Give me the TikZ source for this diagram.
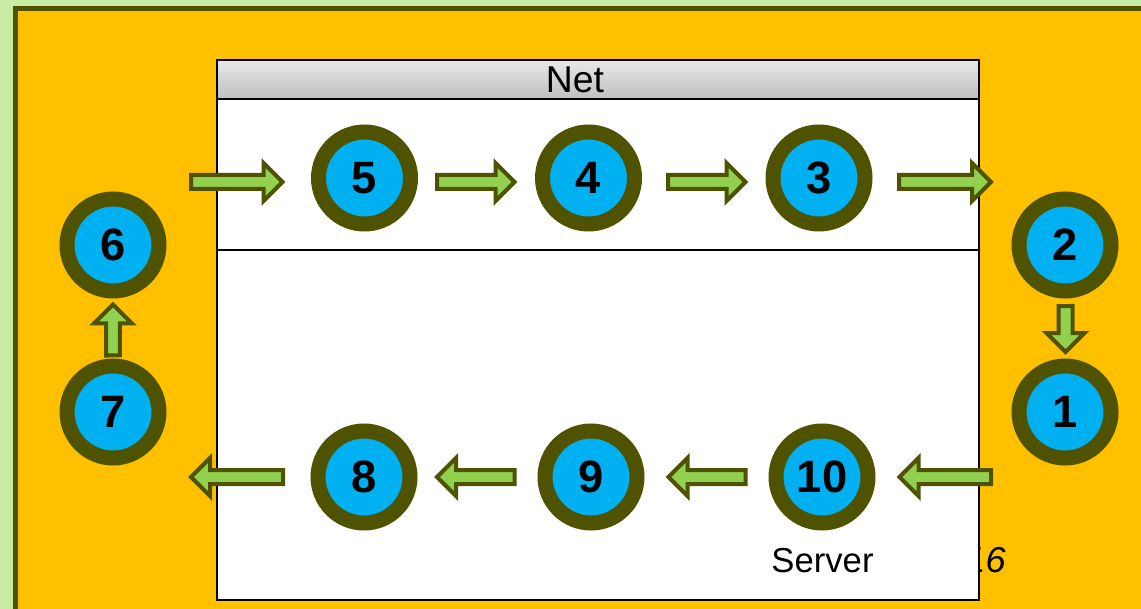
\documentclass[tikz,border=0pt]{standalone}
\usepackage{fontspec}
\setmainfont{Liberation Sans}
\usetikzlibrary{calc}
\definecolor{leaf}{RGB}{198,237,163}
\definecolor{amber}{RGB}{255,192,0}
\definecolor{ringolive}{RGB}{79,83,0}
\definecolor{ringblue}{RGB}{0,176,240}
\definecolor{arrowgreen}{RGB}{146,208,80}
\begin{document}
\begin{tikzpicture}[x=0.75pt,y=-0.75pt,
    stage/.style={circle,fill=ringblue,draw=ringolive,line width=11.25pt,
      minimum size=69pt,inner sep=0pt,outer sep=0pt,font=\fontsize{34}{34}\selectfont\bfseries},
    blockarrow/.style={draw=ringolive,fill=arrowgreen,line width=3pt,
      to path={let \p1=(\tikztostart), \p2=(\tikztotarget),
        \n1={atan2(\y2-\y1,\x2-\x1)}, \n2={veclen(\x2-\x1,\y2-\y1)-14.25pt} in
        (\p1) ++(\n1+90:5.25pt) -- ++(\n1:\n2) -- ++(\n1+90:9pt) -- (\p2)
        -- ++(\n1-135:20.15pt) -- ++(\n1+90:9pt) -- ++(\n1+180:\n2) -- cycle}},
    label/.style={inner sep=0pt,anchor=base}]
    \useasboundingbox (0,0) rectangle (1141,609);
    \clip (0,0) rectangle (1141,609);
    % background
    \fill[leaf] (0,0) rectangle (1141,609);
    \draw[ringolive,line width=3.75pt,fill=amber] (15,8.5) rectangle (1170,640);
    \node[label,anchor=base east,font=\fontsize{27}{27}\selectfont\itshape] (page) at (1006,572) {16};
    % net box
    \draw[line width=1.9pt,fill=white] (217,60) rectangle (979,600);
    \draw[line width=1.5pt,top color=gray!18,bottom color=gray!50] (217,60) rectangle (979,99);
    \draw[line width=1.5pt] (217,250) -- (979,250);
    \node[label,font=\fontsize{28}{28}\selectfont] (net) at (575,93) {Net};
    \node[label,font=\fontsize{26}{26}\selectfont] (server) at (822.5,572) {Server};
    % stages
    \node[stage] (n1) at (1065,412) {1};
    \node[stage] (n2) at (1065,245) {2};
    \node[stage] (n3) at (819,178) {3};
    \node[stage] (n4) at (588.5,178) {4};
    \node[stage] (n5) at (364.5,178) {5};
    \node[stage] (n6) at (113,245) {6};
    \node[stage] (n7) at (113,412) {7};
    \node[stage] (n8) at (364,477) {8};
    \node[stage] (n9) at (591,477) {9};
    \node[stage] (n10) at (822,477) {10};
    % free ends
    \coordinate (inL) at (191,182);
    \coordinate (outR) at (991,182);
    \coordinate (inR) at (991,477);
    \coordinate (outL) at (191,477);
    % arrows
    \draw[blockarrow] (inL) to ($(n5.west)+(-36,4)$);
    \draw[blockarrow] ($(n5.east)+(26.5,4)$) to ($(n4.west)+(-28,4)$);
    \draw[blockarrow] ($(n4.east)+(33.5,4)$) to ($(n3.west)+(-27.5,4)$);
    \draw[blockarrow] ($(n3.east)+(34,4)$) to (outR);
    \draw[blockarrow] ($(n2.south)+(0.5,15)$) to ($(n1.north)+(0.5,-14)$);
    \draw[blockarrow] (inR) to ($(n10.east)+(31.5,0)$);
    \draw[blockarrow] ($(n10.west)+(-30.5,0)$) to ($(n9.east)+(31.5,0)$);
    \draw[blockarrow] ($(n9.west)+(-30.5,0)$) to ($(n8.east)+(27,0)$);
    \draw[blockarrow] ($(n8.west)+(-35,0)$) to (outL);
    \draw[blockarrow] ($(n7.north)+(0,-10.5)$) to ($(n6.south)+(0,13.5)$);
\end{tikzpicture}
\end{document}
